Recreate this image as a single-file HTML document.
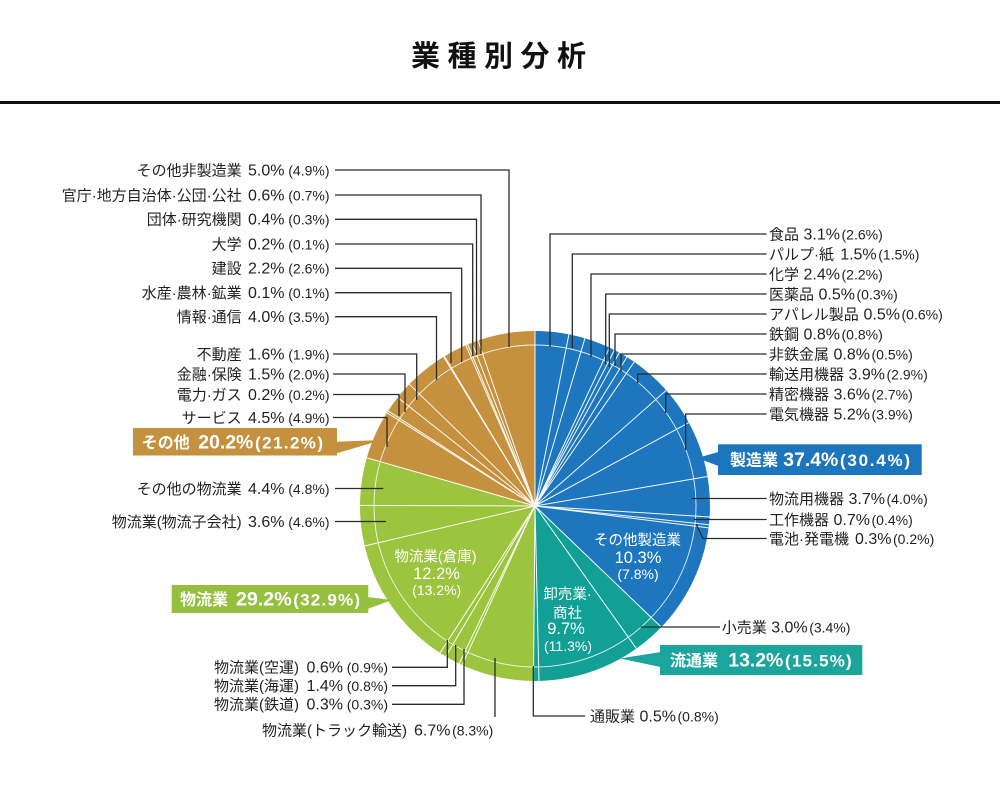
<!DOCTYPE html>
<html>
<head>
<meta charset="utf-8">
<style>
html,body{margin:0;padding:0;background:#fff;}
svg{display:block}
text{font-family:"Liberation Sans","Noto Sans CJK JP",sans-serif;fill:#231f20}
.n{font-size:15px}
.v{font-size:16px}
.p{font-size:14px}
.wn{font-size:14.5px;fill:#fff}
.wv{font-size:16.5px;fill:#fff}
.wp{font-size:14px;fill:#fff}
.bn{font-size:16px;font-weight:bold;fill:#fff}
.bv{font-size:19px;font-weight:bold;fill:#fff}
.bp{font-size:17px;font-weight:bold;fill:#fff}
</style>
</head>
<body>
<svg width="1000" height="796" viewBox="0 0 1000 796" xmlns="http://www.w3.org/2000/svg">
<!-- Title -->
<text x="411 447.5 484 520.5 557" y="66" style="font-size:29px;font-weight:bold;fill:#111">業種別分析</text>
<rect x="0" y="101" width="1000" height="3" fill="#111"/>

<!-- Pie -->
<path d="M535,506 L535,331 A175,175 0 0 1 661.3,627.1 Z" fill="#1d76be"/>
<path d="M535,506 L661.3,627.1 A175,175 0 0 1 533.5,681 Z" fill="#12a096"/>
<path d="M535,506 L533.5,681 A175,175 0 0 1 366.8,457.8 Z" fill="#9cc43e"/>
<path d="M535,506 L366.8,457.8 A175,175 0 0 1 535,331 Z" fill="#c6913f"/>
<circle cx="535" cy="506" r="161" fill="none" stroke="#fff" stroke-width="0.9" opacity="0.85"/>
<path fill="none" stroke="#fff" stroke-width="1" opacity="0.95" d="
M535,506 L535,331 M535,506 L568.9,334.3 M535,506 L584.9,338.3 M535,506 L609.5,347.7
M535,506 L614.4,350.1 M535,506 L619.3,352.6 M535,506 L626.9,357.1 M535,506 L634.3,361.9
M535,506 L666.3,390.3 M535,506 L688.9,422.6 M535,506 L707.5,476.5 M535,506 L709.7,517
M535,506 L709,524.7 M535,506 L708.6,527.9 M535,506 L661.3,627.1 M535,506 L636.4,648.6
M535,506 L539,681 M535,506 L533.5,681 M535,506 L462.1,665.1 M535,506 L459.1,663.7
M535,506 L445.7,656.5 M535,506 L440,652.9 M535,506 L364.6,546 M535,506 L360,505.4
M535,506 L366.8,457.8 M535,506 L386.9,412.7 M535,506 L388.1,410.9 M535,506 L397.7,397.5
M535,506 L409.3,384.2 M535,506 L443.6,356.8 M535,506 L444.4,356.3 M535,506 L465.8,345.3
M535,506 L467.7,344.4 M535,506 L472,342.7 M535,506 L478,340.5"/>

<!-- Leader lines -->
<path fill="none" stroke="#2b2b2b" stroke-width="1.3" d="
M335,170 H509 V347
M335,195 H481 V354
M335,219.3 H476.5 V355
M335,244 H472.7 V356
M335,268.3 H461.7 V362
M335,292.7 H451 V363
M335,316.7 H436.5 V380
M333,354 H416.7 V400
M333,374 H405 V412
M333,394.5 H399 V416
M333,417.5 H387 V447
M335,488.5 H383.3
M335,521.5 H386
M392,667.3 H447.3 V640
M392,685.7 H455.7 V645
M392,704.3 H464 V649
M495,658 V717
M766.7,234 H550 V347
M766.7,254 H572.3 V348
M766.7,274 H591 V357
M766.7,294 H605.7 V364
M766.7,314 H609.3 V367
M766.7,334 H615 V366
M766.7,354 H621 V372
M766.7,374 H637.7 V383
M766.7,394 H665.7 V413
M766.7,414 H685.7 V450
M691.7,498.5 H766.7
M694,519.5 H766.7
M766.7,538.5 H703 L696,524
M640.7,627 H720
M533.3,666 V716 H585"/>

<!-- Left labels -->
<g text-anchor="end">
<text class="n" x="241.7" y="175.3">その他非製造業</text><text class="v" x="284.5" y="175.3">5.0%</text><text class="p" x="329.5" y="175.3">(4.9%)</text>
<text class="n" x="241.7" y="200.3">官庁·地方自治体·公団·公社</text><text class="v" x="284.5" y="200.3">0.6%</text><text class="p" x="329.5" y="200.3">(0.7%)</text>
<text class="n" x="241.7" y="224.6">団体·研究機関</text><text class="v" x="284.5" y="224.6">0.4%</text><text class="p" x="329.5" y="224.6">(0.3%)</text>
<text class="n" x="241.7" y="249.3">大学</text><text class="v" x="284.5" y="249.3">0.2%</text><text class="p" x="329.5" y="249.3">(0.1%)</text>
<text class="n" x="241.7" y="273.6">建設</text><text class="v" x="284.5" y="273.6">2.2%</text><text class="p" x="329.5" y="273.6">(2.6%)</text>
<text class="n" x="241.7" y="298">水産·農林·鉱業</text><text class="v" x="284.5" y="298">0.1%</text><text class="p" x="329.5" y="298">(0.1%)</text>
<text class="n" x="241.7" y="322">情報·通信</text><text class="v" x="284.5" y="322">4.0%</text><text class="p" x="329.5" y="322">(3.5%)</text>
<text class="n" x="241.7" y="359.3">不動産</text><text class="v" x="284.5" y="359.3">1.6%</text><text class="p" x="329.5" y="359.3">(1.9%)</text>
<text class="n" x="241.7" y="379.3">金融·保険</text><text class="v" x="284.5" y="379.3">1.5%</text><text class="p" x="329.5" y="379.3">(2.0%)</text>
<text class="n" x="241.7" y="399.8">電力·ガス</text><text class="v" x="284.5" y="399.8">0.2%</text><text class="p" x="329.5" y="399.8">(0.2%)</text>
<text class="n" x="241.7" y="422.8">サービス</text><text class="v" x="284.5" y="422.8">4.5%</text><text class="p" x="329.5" y="422.8">(4.9%)</text>
<text class="n" x="241.7" y="493.8">その他の物流業</text><text class="v" x="284.5" y="493.8">4.4%</text><text class="p" x="329.5" y="493.8">(4.8%)</text>
<text class="n" x="241.7" y="526.8">物流業(物流子会社)</text><text class="v" x="284.5" y="526.8">3.6%</text><text class="p" x="329.5" y="526.8">(4.6%)</text>
<text class="n" x="299" y="672.6">物流業(空運)</text><text class="v" x="343" y="672.6">0.6%</text><text class="p" x="388" y="672.6">(0.9%)</text>
<text class="n" x="299" y="691">物流業(海運)</text><text class="v" x="343" y="691">1.4%</text><text class="p" x="388" y="691">(0.8%)</text>
<text class="n" x="299" y="709.6">物流業(鉄道)</text><text class="v" x="343" y="709.6">0.3%</text><text class="p" x="388" y="709.6">(0.3%)</text>
<text class="n" x="407" y="735.3">物流業(トラック輸送)</text><text class="v" x="450.5" y="735.3">6.7%</text><text class="p" x="493.3" y="735.3">(8.3%)</text>
</g>

<!-- Right labels -->
<g>
<text class="n" x="769" y="239.3">食品</text><text class="v" x="803.5" y="239.3">3.1%</text><text class="p" x="841.5" y="239.3">(2.6%)</text>
<text class="n" x="769" y="259.3">パルプ·紙</text><text class="v" x="840.2" y="259.3">1.5%</text><text class="p" x="878.2" y="259.3">(1.5%)</text>
<text class="n" x="769" y="279.3">化学</text><text class="v" x="803.5" y="279.3">2.4%</text><text class="p" x="841.5" y="279.3">(2.2%)</text>
<text class="n" x="769" y="299.3">医薬品</text><text class="v" x="818.5" y="299.3">0.5%</text><text class="p" x="856.5" y="299.3">(0.3%)</text>
<text class="n" x="769" y="319.3">アパレル製品</text><text class="v" x="863.5" y="319.3">0.5%</text><text class="p" x="901.5" y="319.3">(0.6%)</text>
<text class="n" x="769" y="339.3">鉄鋼</text><text class="v" x="803.5" y="339.3">0.8%</text><text class="p" x="841.5" y="339.3">(0.8%)</text>
<text class="n" x="769" y="359.3">非鉄金属</text><text class="v" x="833.5" y="359.3">0.8%</text><text class="p" x="871.5" y="359.3">(0.5%)</text>
<text class="n" x="769" y="379.3">輸送用機器</text><text class="v" x="848.5" y="379.3">3.9%</text><text class="p" x="886.5" y="379.3">(2.9%)</text>
<text class="n" x="769" y="399.3">精密機器</text><text class="v" x="833.5" y="399.3">3.6%</text><text class="p" x="871.5" y="399.3">(2.7%)</text>
<text class="n" x="769" y="419.3">電気機器</text><text class="v" x="833.5" y="419.3">5.2%</text><text class="p" x="871.5" y="419.3">(3.9%)</text>
<text class="n" x="769" y="503.8">物流用機器</text><text class="v" x="848.5" y="503.8">3.7%</text><text class="p" x="886.5" y="503.8">(4.0%)</text>
<text class="n" x="769" y="524.8">工作機器</text><text class="v" x="833.5" y="524.8">0.7%</text><text class="p" x="871.5" y="524.8">(0.4%)</text>
<text class="n" x="769" y="543.8">電池·発電機</text><text class="v" x="855" y="543.8">0.3%</text><text class="p" x="893" y="543.8">(0.2%)</text>
<text class="n" x="721.7" y="632.3">小売業</text><text class="v" x="771.2" y="632.3">3.0%</text><text class="p" x="809.2" y="632.3">(3.4%)</text>
<text class="n" x="590" y="721.3">通販業</text><text class="v" x="639.5" y="721.3">0.5%</text><text class="p" x="677.5" y="721.3">(0.8%)</text>
</g>

<!-- Inside labels -->
<g text-anchor="middle">
<text class="wn" x="435.5" y="561.7">物流業(倉庫)</text>
<text class="wv" x="436.5" y="579.2">12.2%</text>
<text class="wp" x="436.7" y="595">(13.2%)</text>
<text class="wn" x="637.5" y="545.2">その他製造業</text>
<text class="wv" x="638" y="563.2">10.3%</text>
<text class="wp" x="638" y="579">(7.8%)</text>
<text class="wn" x="567.5" y="599.2">卸売業·</text>
<text class="wn" x="567.5" y="617.9">商社</text>
<text class="wv" x="566" y="634.2">9.7%</text>
<text class="wp" x="568" y="651">(11.3%)</text>
</g>

<!-- Callout boxes -->
<rect x="133" y="428" width="204" height="27.5" fill="#c4913e"/>
<polygon points="336,441.7 381.7,440 336,453.5" fill="#c4913e"/>
<text class="bn" x="141.7" y="448">その他</text>
<text class="bv" x="198.3" y="448.5" textLength="55" lengthAdjust="spacingAndGlyphs">20.2%</text>
<text class="bp" x="255" y="448.3" textLength="68" lengthAdjust="spacing">(21.2%)</text>

<rect x="171.7" y="585" width="196.6" height="28" fill="#94bf3f"/>
<polygon points="367.5,597 392,600 367.5,609" fill="#94bf3f"/>
<text class="bn" x="180" y="605">物流業</text>
<text class="bv" x="236" y="605.5" textLength="55.7" lengthAdjust="spacingAndGlyphs">29.2%</text>
<text class="bp" x="293.3" y="605.3" textLength="66.7" lengthAdjust="spacing">(32.9%)</text>

<rect x="718" y="444.3" width="203.7" height="30.7" fill="#1d75bb"/>
<polygon points="718.5,452 697,458 718.5,466" fill="#1d75bb"/>
<text class="bn" x="730" y="465.5">製造業</text>
<text class="bv" x="783.3" y="466" textLength="55" lengthAdjust="spacingAndGlyphs">37.4%</text>
<text class="bp" x="840" y="465.8" textLength="70" lengthAdjust="spacing">(30.4%)</text>

<rect x="660" y="645" width="202.3" height="30" fill="#1ba59c"/>
<polygon points="660.5,652 620,658.5 660.5,667" fill="#1ba59c"/>
<text class="bn" x="670" y="666">流通業</text>
<text class="bv" x="728.3" y="666.5" textLength="55" lengthAdjust="spacingAndGlyphs">13.2%</text>
<text class="bp" x="785" y="666.3" textLength="66.7" lengthAdjust="spacing">(15.5%)</text>
</svg>
</body>
</html>
